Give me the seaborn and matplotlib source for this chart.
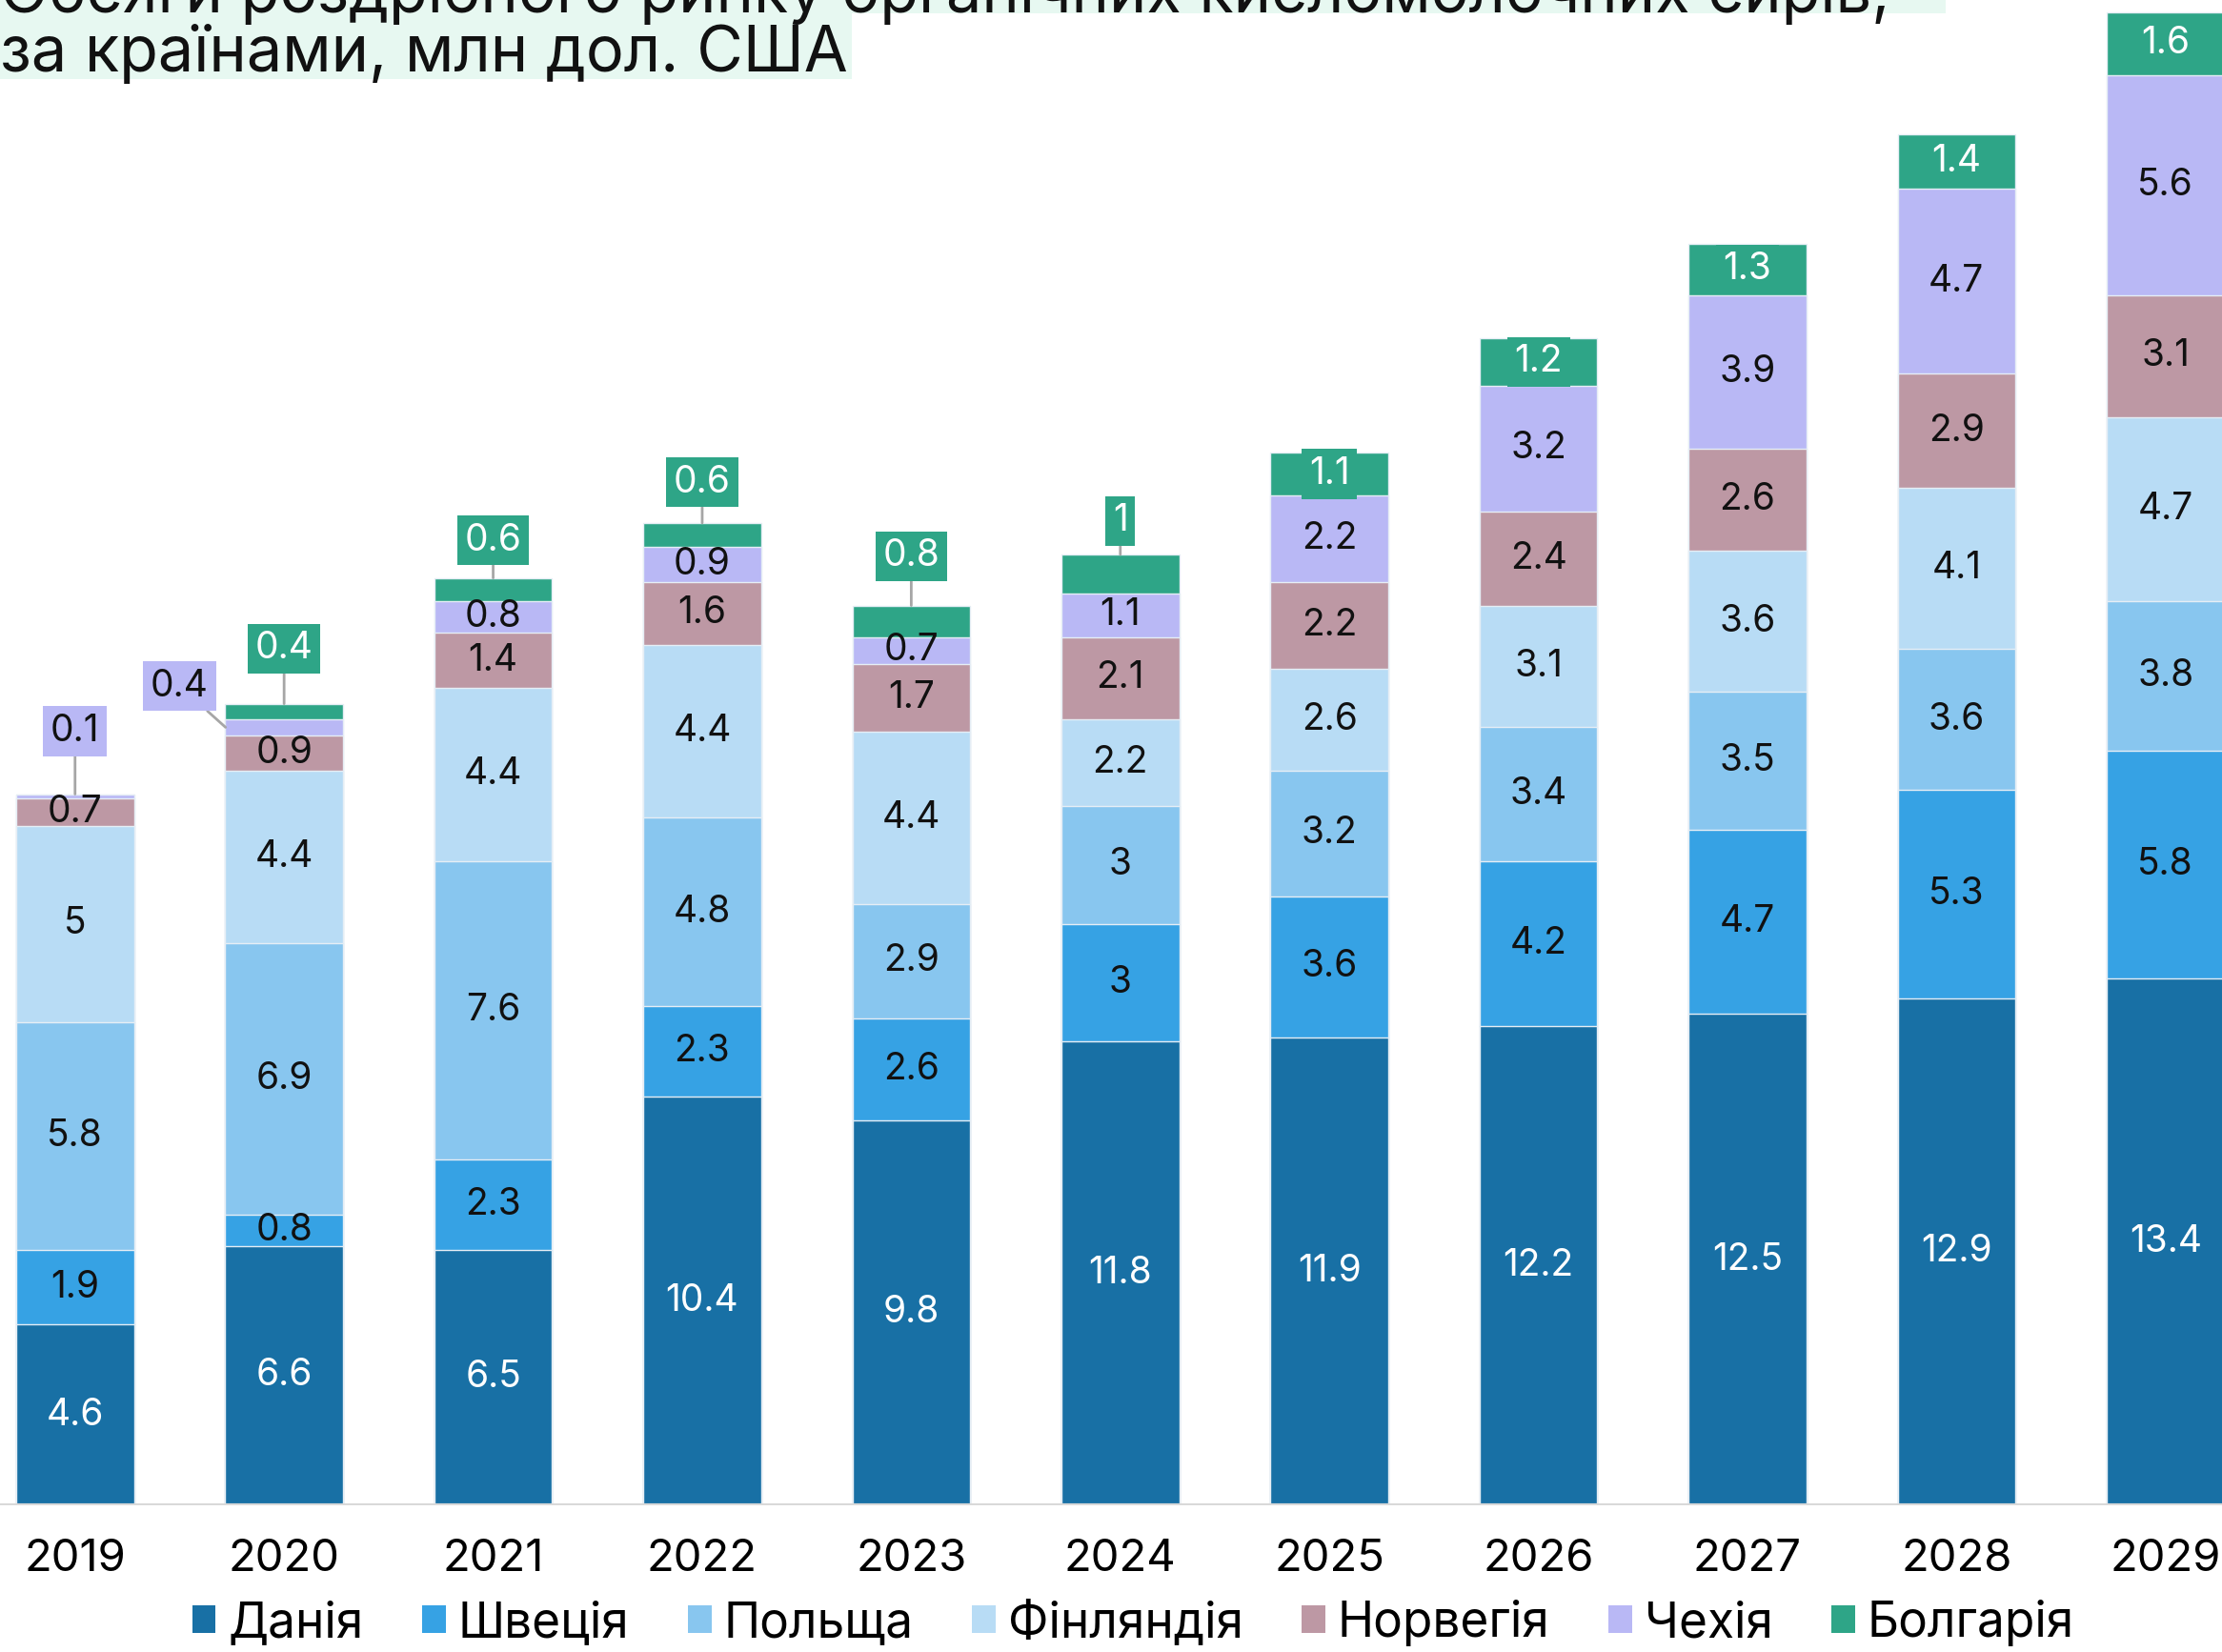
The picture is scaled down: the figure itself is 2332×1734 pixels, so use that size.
import matplotlib
matplotlib.use('Agg')
import matplotlib.pyplot as plt
from matplotlib.patches import Rectangle, Patch
import seaborn as sns
import pandas as pd
import numpy as np

# --- data (млн дол. США) ---
years = ['2019', '2020', '2021', '2022', '2023', '2024', '2025', '2026', '2027', '2028', '2029']
countries = ['Данія', 'Швеція', 'Польща', 'Фінляндія', 'Норвегія', 'Чехія', 'Болгарія']
denmark = [4.6, 6.6, 6.5, 10.4, 9.8, 11.8, 11.9, 12.2, 12.5, 12.9, 13.4]
sweden = [1.9, 0.8, 2.3, 2.3, 2.6, 3, 3.6, 4.2, 4.7, 5.3, 5.8]
poland = [5.8, 6.9, 7.6, 4.8, 2.9, 3, 3.2, 3.4, 3.5, 3.6, 3.8]
finland = [5, 4.4, 4.4, 4.4, 4.4, 2.2, 2.6, 3.1, 3.6, 4.1, 4.7]
norway = [0.7, 0.9, 1.4, 1.6, 1.7, 2.1, 2.2, 2.4, 2.6, 2.9, 3.1]
czechia = [0.1, 0.4, 0.8, 0.9, 0.7, 1.1, 2.2, 3.2, 3.9, 4.7, 5.6]
bulgaria = [0, 0.4, 0.6, 0.6, 0.8, 1, 1.1, 1.2, 1.3, 1.4, 1.6]

colors = ['#1870a5', '#36a2e4', '#88c6ef', '#b8dcf5', '#bd98a4', '#b9b8f5', '#2ea587']
text_colors = ['white', '#111111', '#111111', '#111111', '#111111', '#111111', 'white']

series = [denmark, sweden, poland, finland, norway, czechia, bulgaria]
df = pd.DataFrame({'year': years})
for name, vals in zip(countries, series):
    df[name] = vals
cum = df[countries].cumsum(axis=1)

FONT = 'Inter'
plt.rcParams['font.family'] = [FONT, 'DejaVu Sans']

fig = plt.figure(figsize=(23.32, 17.34), dpi=100)
fig.patch.set_facecolor('white')
ax = fig.add_axes([0, 154 / 1734, 1, 1580 / 1734])
ax.patch.set_alpha(0)

# stacked bars: draw cumulative totals from the top layer down
for i in range(len(countries) - 1, -1, -1):
    sns.barplot(x=df['year'], y=cum[countries[i]], color=colors[i], width=0.563,
                edgecolor='#e6eef5', linewidth=1.0, saturation=1, ax=ax, zorder=2)

ax.set_xlim(-0.359, 10.27)
ax.set_ylim(0, 38.31)
ax.axhline(0, color='#d9d9d9', lw=3, zorder=3)
for s in ax.spines.values():
    s.set_visible(False)
ax.set_yticks([])
ax.set_xlabel('')
ax.set_ylabel('')
ax.tick_params(axis='x', length=0, pad=25, labelsize=34)

# callouts for thin segments (offsets above bar top, layout only)
callouts = {
    (0, 'Чехія'): (0.0, 1.6),
    (1, 'Чехія'): (-0.5, 0.45),
    (1, 'Болгарія'): (0.0, 1.4),
    (2, 'Болгарія'): (0.0, 0.96),
    (3, 'Болгарія'): (0.0, 1.04),
    (4, 'Болгарія'): (0.0, 1.25),
    (5, 'Болгарія'): (0.0, 0.85),
}

lab_fs = 28
for j, yr in enumerate(years):
    total = cum.loc[j, countries[-1]]
    for i, c in enumerate(countries):
        v = df.loc[j, c]
        if v == 0:
            continue
        top = cum.loc[j, c]
        mid = top - v / 2
        txt = f"{v:g}"
        if (j, c) in callouts:
            dx, dy = callouts[(j, c)]
            if dx == 0:
                xy = (j, top)
            else:
                xy = (j - 0.28, mid)
            ax.annotate(txt, xy=xy, xytext=(j + dx, total + dy), ha='center', va='center',
                        fontsize=lab_fs, color=text_colors[i], zorder=5,
                        bbox=dict(boxstyle='square,pad=0.2', fc=colors[i], ec='none'),
                        arrowprops=dict(arrowstyle='-', color='#a6a6a6', lw=2,
                                        shrinkA=0, shrinkB=0))
        elif c == 'Болгарія':
            ax.text(j, mid, txt, ha='center', va='center', fontsize=lab_fs,
                    color=text_colors[i], zorder=5,
                    bbox=dict(boxstyle='square,pad=0.2', fc=colors[i], ec='none'))
        else:
            ax.text(j, mid, txt, ha='center', va='center', fontsize=lab_fs,
                    color=text_colors[i], zorder=5)

# title (partly cut off at top, as in the source)
fig.patches.append(Rectangle((0, 0.9919), 0.8756, 0.02, transform=fig.transFigure,
                             fc='#e7f8f1', ec='none', zorder=0))
fig.patches.append(Rectangle((0, 0.9521), 0.3834, 0.0398, transform=fig.transFigure,
                             fc='#e7f8f1', ec='none', zorder=0))
fig.text(0.0, 0.9925, 'Обсяги роздрібного ринку органічних кисломолочних сирів,',
         fontsize=48, va='baseline', ha='left', color='#111111')
fig.text(0.0, 0.9565, 'за країнами, млн дол. США',
         fontsize=48, va='baseline', ha='left', color='#111111')

handles = [Patch(facecolor=colors[i], edgecolor='none', label=c) for i, c in enumerate(countries)]
fig.legend(handles=handles, loc='center', bbox_to_anchor=(0.51, 0.017), ncol=7,
           frameon=False, fontsize=37, handlelength=0.48, handleheight=0.48,
           handletextpad=0.25, columnspacing=1.2, borderaxespad=0, borderpad=0)

fig.savefig('out.png', dpi=100)
plt.close(fig)
